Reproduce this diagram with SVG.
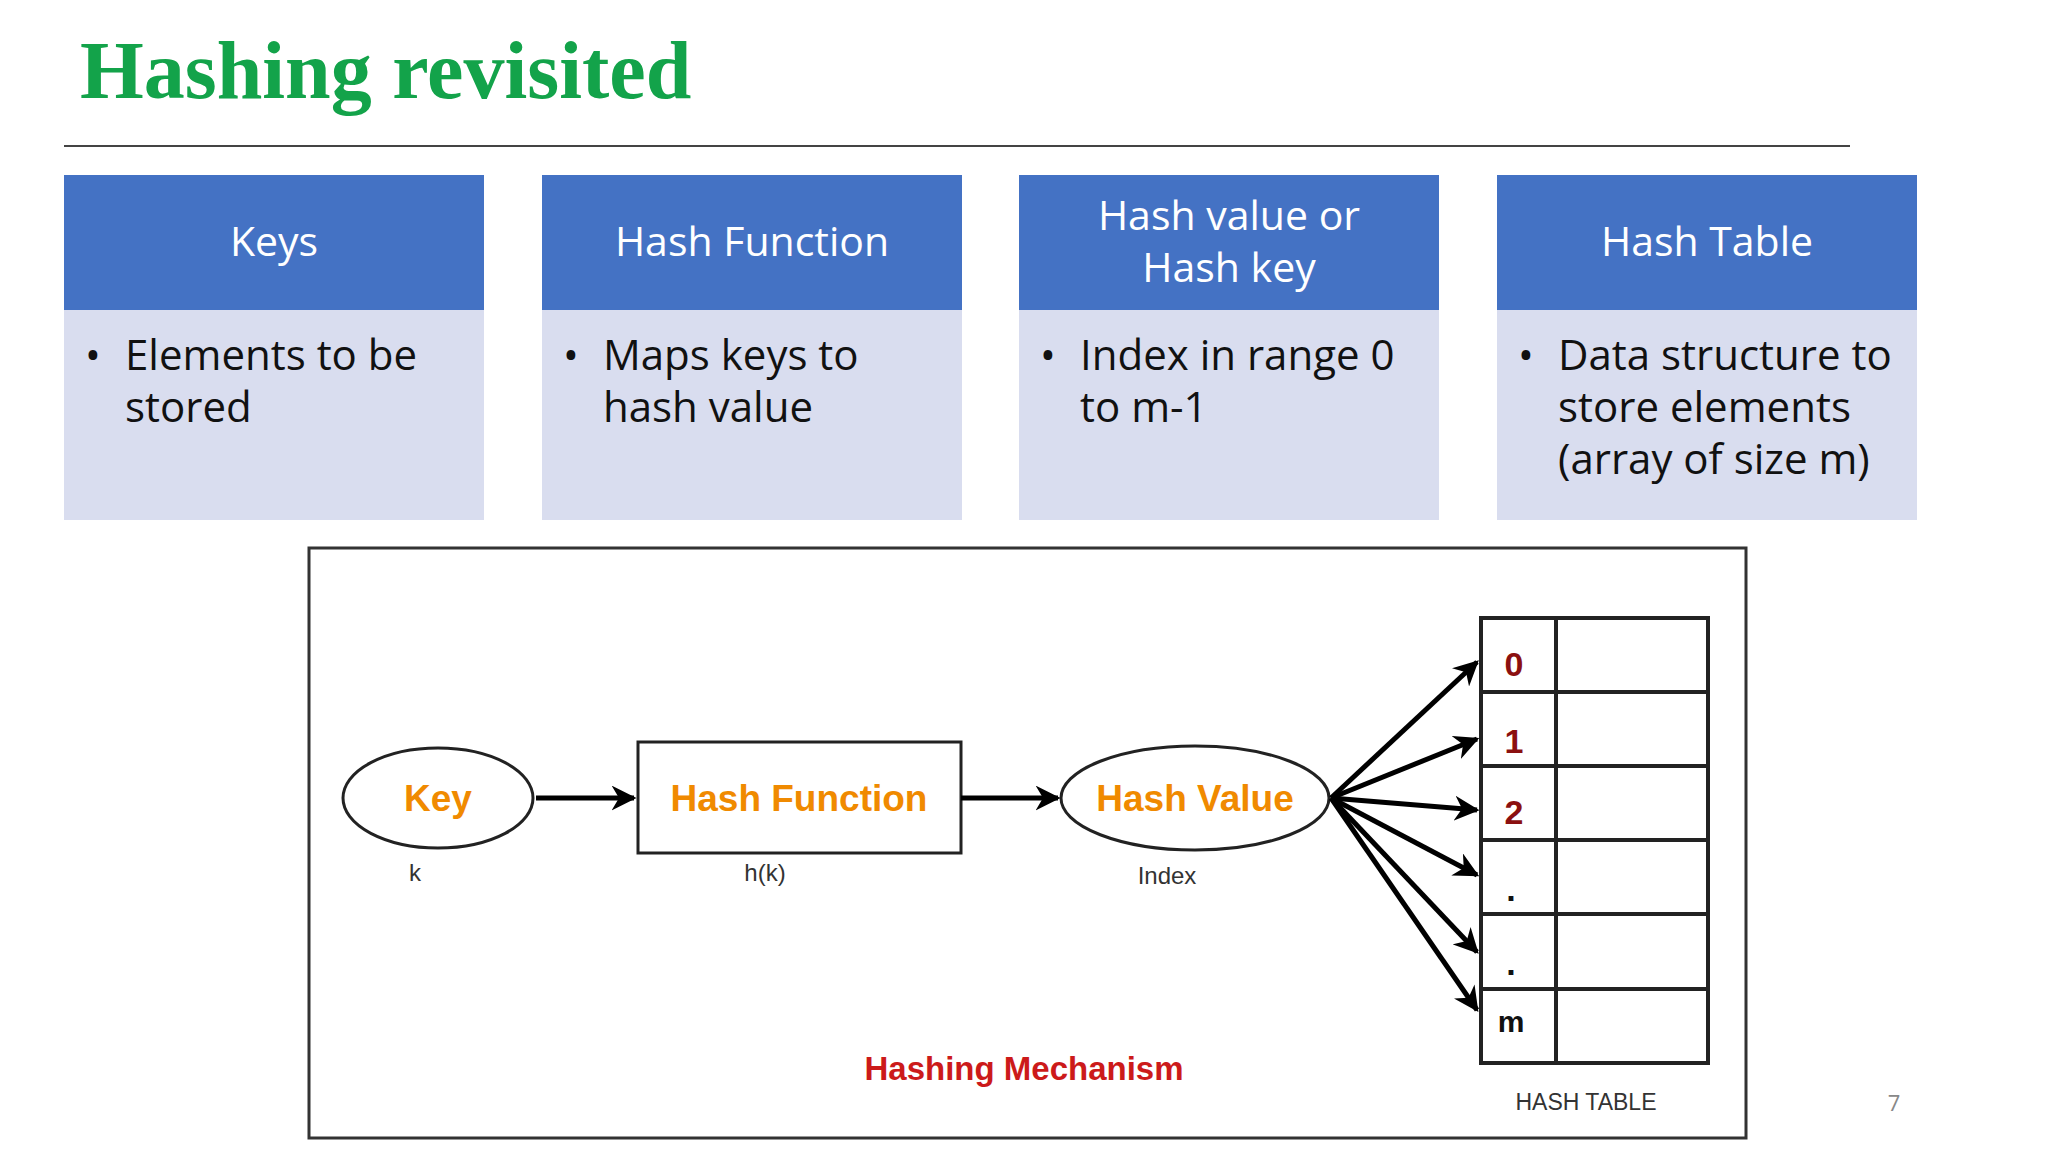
<svg xmlns="http://www.w3.org/2000/svg" width="2048" height="1152" viewBox="0 0 2048 1152">
<style>
.hd{fill:#4472c4}.bd{fill:#d9ddef}
.ht{font-family:"Open Sans","Liberation Sans",sans-serif;font-size:41px;fill:#fff;text-anchor:middle}
.bt{font-family:"Open Sans","Liberation Sans",sans-serif;font-size:42px;fill:#111}
.or{font-family:"Liberation Sans",Arial,sans-serif;font-weight:bold;font-size:37px;fill:#f08a00;text-anchor:middle}
.sm{font-family:"Liberation Sans",Arial,sans-serif;font-size:24px;fill:#333;text-anchor:middle}
.num{font-family:"Liberation Sans",Arial,sans-serif;font-weight:bold;font-size:34px;fill:#8b1010;text-anchor:middle}
.c{stroke:#000;stroke-width:5;fill:none;marker-end:url(#ah)}
</style>
<defs><marker id="ah" viewBox="0 0 10 10" refX="9" refY="5" markerWidth="5" markerHeight="5" orient="auto" markerUnits="strokeWidth"><path d="M0,0 L10,5 L0,10 L3,5 z" fill="#000"/></marker></defs>
<rect width="2048" height="1152" fill="#fff"/>
<text x="80" y="98" font-family="Liberation Serif,serif" font-weight="bold" font-size="82" fill="#13a34a">Hashing revisited</text>
<line x1="64" y1="146" x2="1850" y2="146" stroke="#444" stroke-width="2"/>
<g id="box1"><rect class="hd" x="64" y="175" width="420" height="135"/><rect class="bd" x="64" y="310" width="420" height="210"/>
<text class="ht" x="274" y="256">Keys</text>
<text class="bt" x="85" y="370">•</text><text class="bt" x="125" y="370">Elements to be</text><text class="bt" x="125" y="422">stored</text></g>
<g id="box2"><rect class="hd" x="542" y="175" width="420" height="135"/><rect class="bd" x="542" y="310" width="420" height="210"/>
<text class="ht" x="752" y="256">Hash Function</text>
<text class="bt" x="563" y="370">•</text><text class="bt" x="603" y="370">Maps keys to</text><text class="bt" x="603" y="422">hash value</text></g>
<g id="box3"><rect class="hd" x="1019" y="175" width="420" height="135"/><rect class="bd" x="1019" y="310" width="420" height="210"/>
<text class="ht" x="1229" y="230">Hash value or</text><text class="ht" x="1229" y="282">Hash key</text>
<text class="bt" x="1040" y="370">•</text><text class="bt" x="1080" y="370">Index in range 0</text><text class="bt" x="1080" y="422">to m-1</text></g>
<g id="box4"><rect class="hd" x="1497" y="175" width="420" height="135"/><rect class="bd" x="1497" y="310" width="420" height="210"/>
<text class="ht" x="1707" y="256">Hash Table</text>
<text class="bt" x="1518" y="370">•</text><text class="bt" x="1558" y="370">Data structure to</text><text class="bt" x="1558" y="422">store elements</text><text class="bt" x="1558" y="474">(array of size m)</text></g>
<rect x="309" y="548" width="1437" height="590" fill="#fff" stroke="#333" stroke-width="3"/>
<g id="key"><ellipse cx="438" cy="798" rx="95" ry="50" fill="#fff" stroke="#222" stroke-width="3"/><text class="or" x="438" y="811">Key</text><text class="sm" x="415" y="881">k</text></g>
<g id="hf"><rect x="638" y="742" width="323" height="111" fill="#fff" stroke="#222" stroke-width="3"/><text class="or" x="799" y="811">Hash Function</text><text class="sm" x="765" y="881">h(k)</text></g>
<g id="hv"><ellipse cx="1195" cy="798" rx="134" ry="52" fill="#fff" stroke="#222" stroke-width="3"/><text class="or" x="1195" y="811">Hash Value</text><text class="sm" x="1167" y="884">Index</text></g>
<g id="table" stroke="#222" stroke-width="4" fill="none">
<rect x="1481" y="618" width="227" height="445"/>
<line x1="1556" y1="618" x2="1556" y2="1063"/>
<line x1="1481" y1="692" x2="1708" y2="692"/><line x1="1481" y1="766" x2="1708" y2="766"/><line x1="1481" y1="840" x2="1708" y2="840"/><line x1="1481" y1="914" x2="1708" y2="914"/><line x1="1481" y1="989" x2="1708" y2="989"/>
</g>
<g id="labels">
<text class="num" x="1514" y="676">0</text><text class="num" x="1514" y="753">1</text><text class="num" x="1514" y="824">2</text>
<text class="num" x="1511" y="901" fill="#111" style="fill:#111">.</text><text class="num" x="1511" y="975" style="fill:#111">.</text>
<text class="num" x="1511" y="1032" style="fill:#111;font-size:30px">m</text>
<text class="sm" x="1586" y="1110" style="font-size:23px">HASH TABLE</text>
<text x="1024" y="1080" font-family="Liberation Sans,sans-serif" font-weight="bold" font-size="33" fill="#cc1a1a" text-anchor="middle">Hashing Mechanism</text>
<text x="1894" y="1111" font-family="Open Sans,sans-serif" font-size="22" fill="#888" text-anchor="middle">7</text>
</g>
<g id="connectors">
<line class="c" x1="536" y1="798" x2="634" y2="798"/>
<line class="c" x1="961" y1="798" x2="1058" y2="798"/>
<line class="c" x1="1331" y1="798" x2="1477" y2="662"/>
<line class="c" x1="1331" y1="798" x2="1477" y2="739"/>
<line class="c" x1="1331" y1="798" x2="1477" y2="810"/>
<line class="c" x1="1331" y1="798" x2="1477" y2="875"/>
<line class="c" x1="1331" y1="798" x2="1477" y2="952"/>
<line class="c" x1="1331" y1="798" x2="1477" y2="1010"/>
</g>
</svg>
